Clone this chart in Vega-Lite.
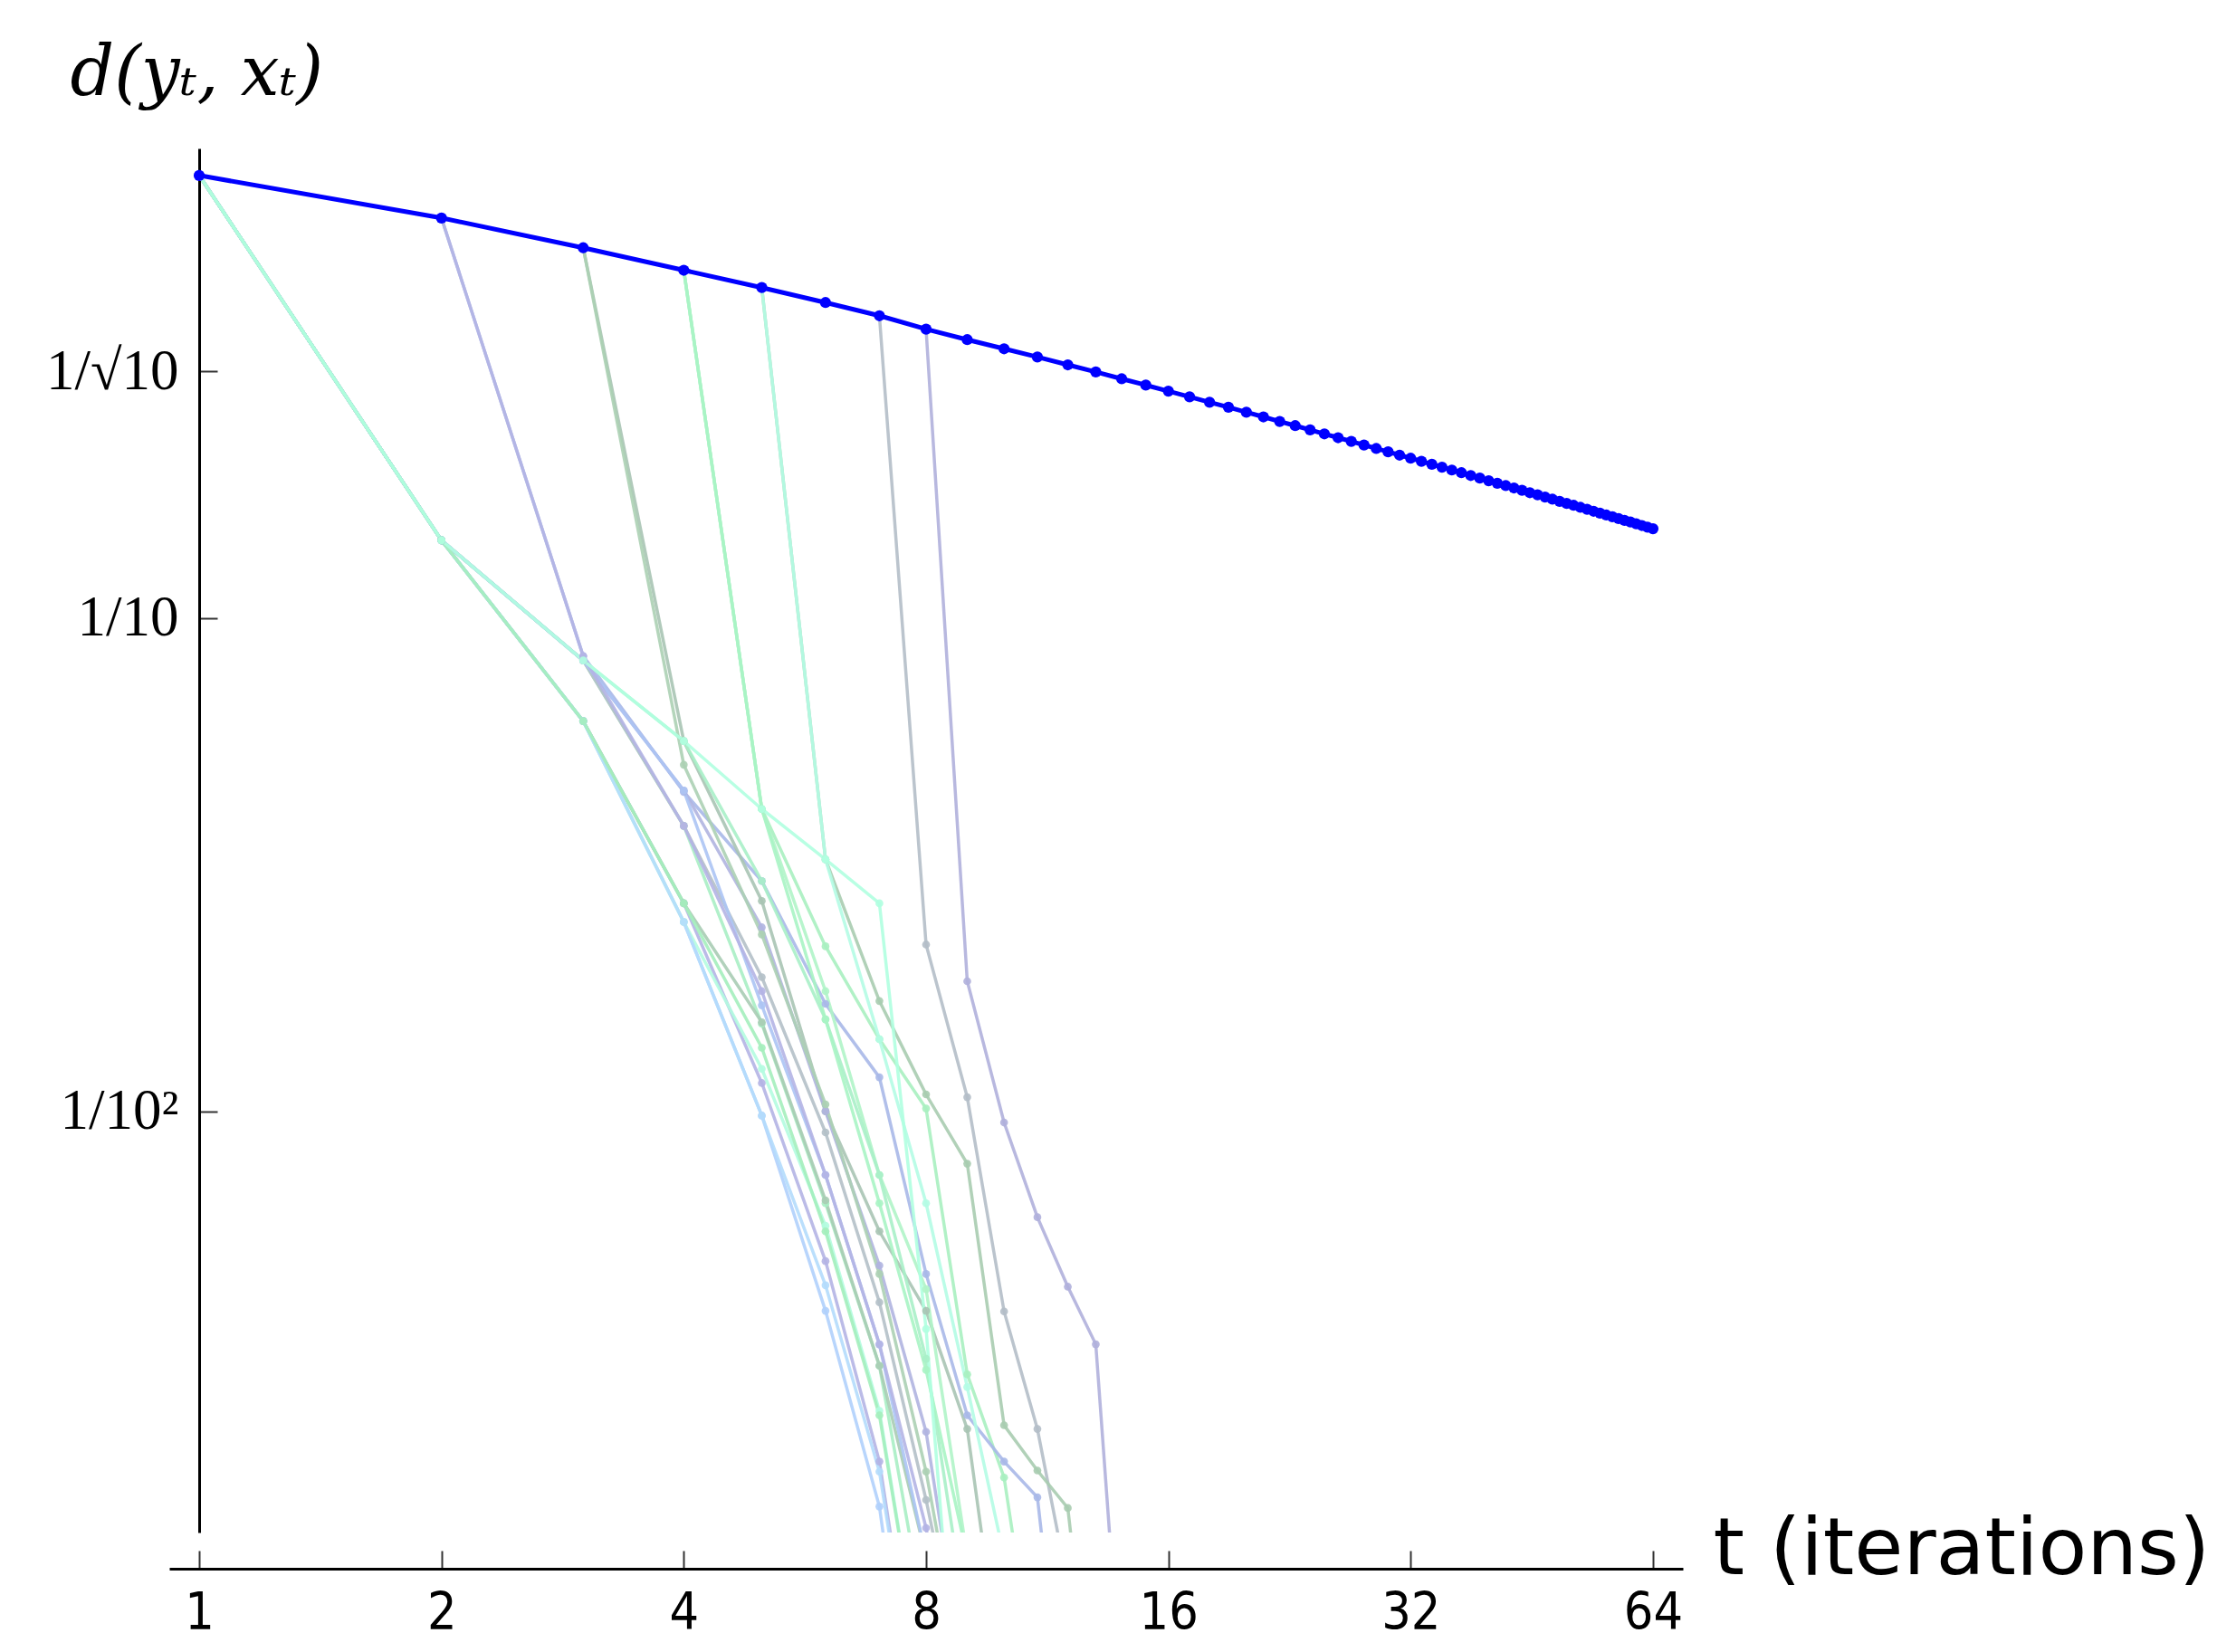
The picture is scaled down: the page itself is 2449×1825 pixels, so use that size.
{
  "$schema": "https://vega.github.io/schema/vega-lite/v6.json",
  "width": 1672,
  "height": 1529,
  "autosize": {"type": "none"},
  "padding": {"left": 187, "top": 164, "right": 590, "bottom": 132},
  "background": "white",
  "config": {"view": {"stroke": null}, "axis": {"grid": false}},
  "datasets": {
    "main": [
      {"t":1,"d":0.789},{"t":2,"d":0.647},{"t":3,"d":0.563},{"t":4,"d":0.507},{"t":5,"d":0.4675},{"t":6,"d":0.436},{"t":7,"d":0.410},{"t":8,"d":0.385},
      {"t":9,"d":0.3666},{"t":10,"d":0.3514},{"t":11,"d":0.3381},{"t":12,"d":0.3260},{"t":13,"d":0.3153},{"t":14,"d":0.3054},{"t":15,"d":0.2966},{"t":16,"d":0.2883},
      {"t":17,"d":0.2808},{"t":18,"d":0.2738},{"t":19,"d":0.2674},{"t":20,"d":0.2613},{"t":21,"d":0.2557},{"t":22,"d":0.2503},{"t":23,"d":0.2454},{"t":24,"d":0.2406},
      {"t":25,"d":0.2362},{"t":26,"d":0.2320},{"t":27,"d":0.2280},{"t":28,"d":0.2242},{"t":29,"d":0.2206},{"t":30,"d":0.2172},{"t":31,"d":0.2139},{"t":32,"d":0.2108},
      {"t":33,"d":0.2078},{"t":34,"d":0.2049},{"t":35,"d":0.2022},{"t":36,"d":0.1995},{"t":37,"d":0.1970},{"t":38,"d":0.1945},{"t":39,"d":0.1921},{"t":40,"d":0.1898},
      {"t":41,"d":0.1876},{"t":42,"d":0.1855},{"t":43,"d":0.1835},{"t":44,"d":0.1815},{"t":45,"d":0.1795},{"t":46,"d":0.1777},{"t":47,"d":0.1759},{"t":48,"d":0.1741},
      {"t":49,"d":0.1724},{"t":50,"d":0.1707},{"t":51,"d":0.1692},{"t":52,"d":0.1676},{"t":53,"d":0.1661},{"t":54,"d":0.1646},{"t":55,"d":0.1631},{"t":56,"d":0.1617},
      {"t":57,"d":0.1604},{"t":58,"d":0.1590},{"t":59,"d":0.1577},{"t":60,"d":0.1565},{"t":61,"d":0.1552},{"t":62,"d":0.1540},{"t":63,"d":0.1528},{"t":64,"d":0.1517}
    ],
    "branches": [
      {"run":"P8","t":8,"d":0.385},{"run":"P8","t":9,"d":0.01835},{"run":"P8","t":10,"d":0.00949},{"run":"P8","t":11,"d":0.0061},{"run":"P8","t":12,"d":0.00441},{"run":"P8","t":13,"d":0.00337},{"run":"P8","t":14,"d":0.00064},
      {"run":"G7","t":7,"d":0.41},{"run":"G7","t":8,"d":0.02178},{"run":"G7","t":9,"d":0.01068},{"run":"G7","t":10,"d":0.00393},{"run":"G7","t":11,"d":0.00227},{"run":"G7","t":12,"d":0.0011},
      {"run":"GG5","t":5,"d":0.4675},{"run":"GG5","t":6,"d":0.0324},{"run":"GG5","t":7,"d":0.01673},{"run":"GG5","t":8,"d":0.01082},{"run":"GG5","t":9,"d":0.00783},{"run":"GG5","t":10,"d":0.00231},{"run":"GG5","t":11,"d":0.00187},{"run":"GG5","t":12,"d":0.00157},{"run":"GG5","t":13,"d":0.0005},
      {"run":"M4a","t":4,"d":0.507},{"run":"M4a","t":5,"d":0.041},{"run":"M4a","t":6,"d":0.0216},{"run":"M4a","t":7,"d":0.014},{"run":"M4a","t":8,"d":0.01013},{"run":"M4a","t":9,"d":0.00293},{"run":"M4a","t":10,"d":0.00181},{"run":"M4a","t":11,"d":0.00065},
      {"run":"LB2","t":2,"d":0.647},{"run":"LB2","t":3,"d":0.0837},{"run":"LB2","t":4,"d":0.0444},{"run":"LB2","t":5,"d":0.0293},{"run":"LB2","t":6,"d":0.01651},{"run":"LB2","t":7,"d":0.01172},{"run":"LB2","t":8,"d":0.00468},{"run":"LB2","t":9,"d":0.00242},{"run":"LB2","t":10,"d":0.00195},{"run":"LB2","t":11,"d":0.00165},{"run":"LB2","t":12,"d":0.00047},
      {"run":"G3","t":3,"d":0.563},{"run":"G3","t":4,"d":0.0563},{"run":"G3","t":5,"d":0.0267},{"run":"G3","t":6,"d":0.01},{"run":"G3","t":7,"d":0.00571},{"run":"G3","t":8,"d":0.00394},{"run":"G3","t":9,"d":0.00227},{"run":"G3","t":10,"d":0.00065},
      {"run":"M4b","t":4,"d":0.507},{"run":"M4b","t":5,"d":0.041},{"run":"M4b","t":6,"d":0.01752},{"run":"M4b","t":7,"d":0.00743},{"run":"M4b","t":8,"d":0.00436},{"run":"M4b","t":9,"d":0.00125},
      {"run":"T1a","t":1,"d":0.789},{"run":"T1a","t":2,"d":0.1437},{"run":"T1a","t":3,"d":0.082},{"run":"T1a","t":4,"d":0.0379},{"run":"T1a","t":5,"d":0.01505},{"run":"T1a","t":6,"d":0.00651},{"run":"T1a","t":7,"d":0.00305},{"run":"T1a","t":8,"d":0.0009},
      {"run":"T1b","t":1,"d":0.789},{"run":"T1b","t":2,"d":0.1437},{"run":"T1b","t":3,"d":0.0618},{"run":"T1b","t":4,"d":0.0264},{"run":"T1b","t":5,"d":0.01141},{"run":"T1b","t":6,"d":0.00497},{"run":"T1b","t":7,"d":0.00195},{"run":"T1b","t":8,"d":0.00047},
      {"run":"T1c","t":1,"d":0.789},{"run":"T1c","t":2,"d":0.1437},{"run":"T1c","t":3,"d":0.0618},{"run":"T1c","t":4,"d":0.0242},{"run":"T1c","t":5,"d":0.0098},{"run":"T1c","t":6,"d":0.00394},{"run":"T1c","t":7,"d":0.00158},{"run":"T1c","t":8,"d":0.00033},
      {"run":"T1d","t":1,"d":0.789},{"run":"T1d","t":2,"d":0.1437},{"run":"T1d","t":3,"d":0.0618},{"run":"T1d","t":4,"d":0.0242},{"run":"T1d","t":5,"d":0.01219},{"run":"T1d","t":6,"d":0.00586},{"run":"T1d","t":7,"d":0.00247},{"run":"T1d","t":8,"d":0.00065},
      {"run":"T1e","t":1,"d":0.789},{"run":"T1e","t":2,"d":0.1437},{"run":"T1e","t":3,"d":0.082},{"run":"T1e","t":4,"d":0.0447},{"run":"T1e","t":5,"d":0.0236},{"run":"T1e","t":6,"d":0.01},{"run":"T1e","t":7,"d":0.00487},{"run":"T1e","t":8,"d":0.00224},{"run":"T1e","t":9,"d":0.00065},
      {"run":"T1f","t":1,"d":0.789},{"run":"T1f","t":2,"d":0.1437},{"run":"T1f","t":3,"d":0.0618},{"run":"T1f","t":4,"d":0.0264},{"run":"T1f","t":5,"d":0.01515},{"run":"T1f","t":6,"d":0.0066},{"run":"T1f","t":7,"d":0.00305},{"run":"T1f","t":8,"d":0.00125},
      {"run":"T1g","t":1,"d":0.789},{"run":"T1g","t":2,"d":0.1437},{"run":"T1g","t":3,"d":0.082},{"run":"T1g","t":4,"d":0.0563},{"run":"T1g","t":5,"d":0.0293},{"run":"T1g","t":6,"d":0.01536},{"run":"T1g","t":7,"d":0.00743},{"run":"T1g","t":8,"d":0.00315},{"run":"T1g","t":9,"d":0.0009},
      {"run":"T1h","t":1,"d":0.789},{"run":"T1h","t":2,"d":0.1437},{"run":"T1h","t":3,"d":0.0618},{"run":"T1h","t":4,"d":0.0242},{"run":"T1h","t":5,"d":0.0098},{"run":"T1h","t":6,"d":0.00444},{"run":"T1h","t":7,"d":0.00186},{"run":"T1h","t":8,"d":0.00047},
      {"run":"T1i","t":1,"d":0.789},{"run":"T1i","t":2,"d":0.1437},{"run":"T1i","t":3,"d":0.082},{"run":"T1i","t":4,"d":0.0379},{"run":"T1i","t":5,"d":0.0187},{"run":"T1i","t":6,"d":0.00906},{"run":"T1i","t":7,"d":0.0041},{"run":"T1i","t":8,"d":0.00163},{"run":"T1i","t":9,"d":0.00065},
      {"run":"T1k","t":1,"d":0.789},{"run":"T1k","t":2,"d":0.1437},{"run":"T1k","t":3,"d":0.082},{"run":"T1k","t":4,"d":0.0447},{"run":"T1k","t":5,"d":0.0164},{"run":"T1k","t":6,"d":0.00743},{"run":"T1k","t":7,"d":0.00337},{"run":"T1k","t":8,"d":0.00125},
      {"run":"B2b","t":2,"d":0.647},{"run":"B2b","t":3,"d":0.0837},{"run":"B2b","t":4,"d":0.0379},{"run":"B2b","t":5,"d":0.01752},{"run":"B2b","t":6,"d":0.00743},{"run":"B2b","t":7,"d":0.00337},{"run":"B2b","t":8,"d":0.00143},{"run":"B2b","t":9,"d":0.00047},
      {"run":"B3b","t":3,"d":0.563},{"run":"B3b","t":4,"d":0.0504},{"run":"B3b","t":5,"d":0.02282},{"run":"B3b","t":6,"d":0.01033},{"run":"B3b","t":7,"d":0.00468},{"run":"B3b","t":8,"d":0.00186},{"run":"B3b","t":9,"d":0.00065},
      {"run":"M4c","t":4,"d":0.507},{"run":"M4c","t":5,"d":0.041},{"run":"M4c","t":6,"d":0.01536},{"run":"M4c","t":7,"d":0.00651},{"run":"M4c","t":8,"d":0.00299},{"run":"M4c","t":9,"d":0.00125},
      {"run":"G5b","t":5,"d":0.4675},{"run":"G5b","t":6,"d":0.0324},{"run":"G5b","t":7,"d":0.014},{"run":"G5b","t":8,"d":0.00651},{"run":"G5b","t":9,"d":0.00276},{"run":"G5b","t":10,"d":0.00125},
      {"run":"T1j","t":1,"d":0.789},{"run":"T1j","t":2,"d":0.1437},{"run":"T1j","t":3,"d":0.0618},{"run":"T1j","t":4,"d":0.0264},{"run":"T1j","t":5,"d":0.01345},{"run":"T1j","t":6,"d":0.00571},{"run":"T1j","t":7,"d":0.00242},{"run":"T1j","t":8,"d":0.00065},
      {"run":"A1","t":1,"d":0.789},{"run":"A1","t":2,"d":0.1437},{"run":"A1","t":3,"d":0.082},{"run":"A1","t":4,"d":0.0563},{"run":"A1","t":5,"d":0.041},{"run":"A1","t":6,"d":0.0324},{"run":"A1","t":7,"d":0.0264},{"run":"A1","t":8,"d":0.00362},{"run":"A1","t":9,"d":0.00033}
    ]
  },
  "encoding": {
    "x": {
      "field": "t", "type": "quantitative",
      "scale": {"type": "log", "base": 2, "domain": [0.918, 69.72], "nice": false},
      "axis": {
        "values": [1, 2, 4, 8, 16, 32, 64], "format": "d",
        "title": "t (iterations)", "offset": 40,
        "domainColor": "black", "domainWidth": 3,
        "tickColor": "#333333", "tickWidth": 2, "tickSize": -20,
        "labelPadding": 41, "labelFont": "DejaVu Sans Condensed, DejaVu Sans", "labelFontSize": 57, "labelColor": "black",
        "labelFlush": false, "labelOverlap": false,
        "titleFont": "DejaVu Sans", "titleFontSize": 88, "titleFontWeight": "normal", "titleColor": "black",
        "titleAngle": 0, "titleAlign": "left", "titleBaseline": "alphabetic", "titleX": 1705, "titleY": 5
      }
    },
    "y": {
      "field": "d", "type": "quantitative",
      "scale": {"type": "log", "domain": [0.0014, 0.895], "nice": false},
      "axis": {
        "values": [0.316228, 0.1, 0.01],
        "labelExpr": "datum.value > 0.2 ? '1/√10' : (datum.value > 0.05 ? '1/10' : '1/10²')",
        "title": "d(yₜ, xₜ)", "offset": -33,
        "domainColor": "black", "domainWidth": 3,
        "tickColor": "#333333", "tickWidth": 2, "tickSize": -20,
        "labelPadding": 43, "labelFont": "Liberation Serif", "labelFontSize": 63, "labelColor": "black",
        "labelFlush": false, "labelOverlap": false, "labelBaseline": "middle",
        "titleFont": "DejaVu Serif", "titleFontStyle": "italic", "titleFontWeight": "normal", "titleFontSize": 76, "titleColor": "black",
        "titleAngle": 0, "titleAlign": "left", "titleBaseline": "alphabetic", "titleX": -143, "titleY": -60
      }
    }
  },
  "layer": [
    {
      "data": {"name": "branches"},
      "mark": {"type": "line", "clip": true, "strokeWidth": 3.5, "opacity": 0.9, "point": {"filled": true, "size": 75, "opacity": 0.9}},
      "encoding": {
        "color": {
          "field": "run", "type": "nominal", "legend": null,
          "sort": null,
          "scale": {
            "domain": ["P8","G7","GG5","M4a","LB2","G3","M4b","T1a","T1b","T1c","T1d","T1e","T1f","T1g","T1h","T1i","T1k","B2b","B3b","M4c","G5b","T1j","A1"],
            "range": ["#b0b0dc","#b4bec8","#a8ccb0","#a8f0c0","#a8b8e8","#a8c4b4","#b0f4c8","#a8eec4","#b4b4e4","#b0d0fc","#b4fce0","#b0b4e0","#a8ccb4","#a8f0c8","#b4dcfc","#b4c0c8","#acc4f4","#b4b4e4","#acd0b4","#a8f4c4","#b4fce4","#a4eebc","#b0ffe0"]
          }
        }
      }
    },
    {
      "data": {"name": "main"},
      "mark": {"type": "line", "clip": true, "color": "#0000ff", "strokeWidth": 5, "point": {"filled": true, "size": 150, "color": "#0000ff"}},
      "encoding": {}
    }
  ]
}
